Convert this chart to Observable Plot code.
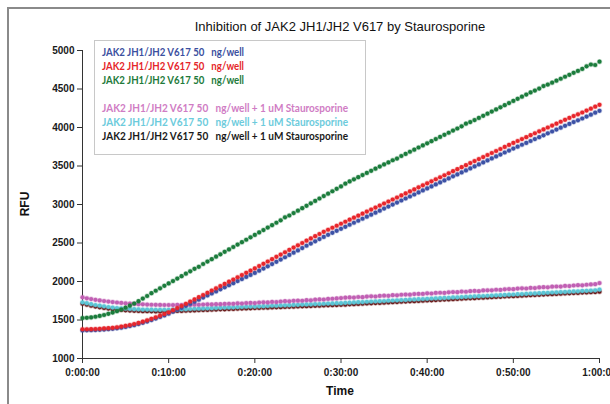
<!DOCTYPE html>
<html>
<head>
<meta charset="utf-8">
<script src="https://cdn.jsdelivr.net/npm/d3@7"></script>
<script src="https://cdn.jsdelivr.net/npm/@observablehq/plot@0.6"></script>
<style>
  html, body { margin: 0; padding: 0; background: #fff; }
  #wrap { position: relative; width: 610px; height: 404px; overflow: hidden; background: #fff; }
  #wrap svg.plot { position: absolute; left: 0; top: 0; }
  .ov { position: absolute; white-space: nowrap; color: #111; }
</style>
</head>
<body>
<div id="wrap"></div>
<script>
// ---- Data (RFU every 30 s, 0 .. 60 min) ----
const sampleMinutes = d3.range(0, 60.5, 0.5);

const legendLabels = [
  "JAK2 JH1/JH2 V617 50   ng/well",
  "JAK2 JH1/JH2 V617 50   ng/well",
  "JAK2 JH1/JH2 V617 50   ng/well",
  "JAK2 JH1/JH2 V617 50   ng/well + 1 uM Staurosporine",
  "JAK2 JH1/JH2 V617 50   ng/well + 1 uM Staurosporine",
  "JAK2 JH1/JH2 V617 50   ng/well + 1 uM Staurosporine"
];

const blueRFU = [
  1365,1366,1367,1369,1372,1376,1380,1385,1392,1400,
  1410,1421,1433,1447,1463,1480,1499,1518,1539,1560,
  1582,1607,1633,1658,1684,1711,1737,1764,1791,1818,
  1845,1871,1898,1925,1952,1978,2005,2032,2059,2085,
  2112,2140,2168,2197,2226,2255,2285,2315,2345,2374,
  2404,2434,2464,2493,2522,2551,2579,2606,2632,2658,
  2684,2710,2737,2763,2789,2815,2842,2868,2894,2920,
  2947,2973,2999,3025,3052,3078,3104,3130,3157,3183,
  3209,3235,3261,3287,3313,3339,3366,3391,3417,3443,
  3469,3495,3521,3546,3572,3598,3624,3649,3675,3700,
  3726,3751,3776,3800,3825,3850,3874,3899,3924,3948,
  3973,3998,4022,4046,4070,4093,4117,4142,4167,4192,
  4216
];
const redRFU = [
  1380,1380,1381,1383,1386,1390,1394,1399,1406,1414,
  1424,1435,1448,1462,1478,1496,1515,1535,1556,1578,
  1600,1627,1655,1682,1710,1739,1767,1796,1825,1854,
  1883,1911,1940,1969,1998,2026,2055,2084,2113,2141,
  2170,2200,2230,2260,2290,2320,2350,2380,2410,2440,
  2470,2500,2530,2559,2588,2617,2645,2672,2698,2724,
  2750,2776,2803,2829,2855,2881,2908,2934,2960,2986,
  3013,3039,3065,3091,3118,3144,3170,3196,3223,3249,
  3275,3301,3328,3354,3380,3406,3433,3459,3485,3511,
  3538,3564,3590,3616,3643,3669,3695,3721,3748,3774,
  3800,3825,3850,3875,3900,3925,3950,3975,4000,4025,
  4050,4075,4100,4124,4148,4171,4195,4220,4245,4270,
  4295
];
const greenRFU = [
  1525,1528,1534,1542,1553,1565,1580,1596,1614,1636,
  1660,1686,1714,1745,1778,1812,1848,1880,1912,1944,
  1975,2006,2038,2069,2101,2132,2164,2190,2227,2259,
  2290,2322,2353,2385,2416,2448,2479,2511,2542,2574,
  2605,2637,2668,2700,2731,2763,2794,2833,2857,2889,
  2920,2952,2983,3015,3046,3078,3109,3141,3172,3204,
  3235,3270,3300,3327,3355,3382,3410,3437,3465,3492,
  3520,3547,3575,3596,3630,3657,3685,3712,3740,3767,
  3795,3822,3850,3877,3905,3932,3960,3987,4015,4050,
  4070,4097,4125,4152,4180,4207,4235,4262,4290,4317,
  4345,4372,4400,4427,4455,4480,4506,4538,4557,4582,
  4608,4633,4659,4684,4710,4735,4761,4795,4818,4812,
  4855
];
const purpleRFU = [
  1795,1782,1772,1762,1754,1746,1739,1733,1727,1722,
  1717,1713,1709,1706,1703,1700,1698,1697,1696,1695,
  1695,1694,1696,1694,1697,1696,1699,1698,1701,1703,
  1702,1706,1705,1709,1711,1710,1716,1714,1720,1722,
  1720,1727,1729,1728,1735,1733,1740,1744,1742,1749,
  1751,1750,1758,1756,1764,1767,1766,1774,1776,1780,
  1785,1790,1793,1791,1799,1797,1804,1807,1805,1813,
  1816,1814,1822,1820,1828,1830,1829,1837,1839,1838,
  1846,1844,1851,1854,1852,1860,1863,1861,1869,1867,
  1874,1877,1875,1884,1886,1885,1893,1891,1898,1902,
  1900,1908,1911,1909,1917,1915,1923,1926,1924,1933,
  1935,1934,1942,1940,1948,1952,1950,1958,1962,1965,
  1980
];
const cyanRFU = [
  1730,1718,1706,1695,1686,1677,1669,1662,1656,1651,
  1647,1643,1640,1638,1636,1635,1634,1633,1632,1633,
  1632,1635,1636,1639,1641,1643,1646,1647,1650,1652,
  1654,1657,1658,1661,1663,1665,1668,1669,1672,1674,
  1675,1678,1680,1682,1685,1686,1689,1691,1693,1696,
  1697,1700,1702,1704,1707,1708,1711,1713,1715,1718,
  1719,1723,1725,1728,1731,1733,1737,1739,1742,1745,
  1747,1751,1753,1756,1759,1761,1765,1767,1770,1773,
  1775,1779,1781,1784,1787,1789,1793,1795,1798,1801,
  1803,1807,1809,1812,1815,1817,1821,1823,1826,1829,
  1831,1835,1837,1840,1843,1845,1849,1851,1854,1857,
  1859,1863,1865,1868,1871,1873,1877,1879,1882,1885,
  1895
];
const darkRFU = [
  1712,1698,1686,1675,1665,1656,1648,1641,1635,1630,
  1626,1622,1619,1617,1615,1614,1613,1612,1612,1612,
  1613,1614,1617,1618,1621,1623,1625,1627,1629,1631,
  1634,1635,1638,1639,1642,1644,1646,1648,1650,1652,
  1655,1656,1659,1660,1663,1665,1667,1669,1671,1673,
  1676,1677,1680,1681,1684,1686,1688,1690,1692,1694,
  1697,1699,1703,1705,1708,1711,1714,1716,1720,1722,
  1725,1728,1731,1733,1737,1739,1742,1745,1748,1750,
  1754,1756,1759,1762,1765,1767,1771,1773,1776,1779,
  1782,1784,1788,1790,1793,1796,1799,1801,1805,1807,
  1810,1813,1816,1818,1822,1824,1827,1830,1833,1835,
  1839,1841,1844,1847,1850,1852,1856,1858,1861,1863,
  1868
];

const yTicks = [1000, 1500, 2000, 2500, 3000, 3500, 4000, 4500, 5000];
const xTicks = [0, 10, 20, 30, 40, 50, 60];
const xTickLabels = ["0:00:00", "0:10:00", "0:20:00", "0:30:00", "0:40:00", "0:50:00", "1:00:00"];

const titleText = "Inhibition of JAK2 JH1/JH2 V617 by Staurosporine";
const xTitle = "Time";
const yTitle = "RFU";

// ---- styling ----
const seriesColors = ["#3d52a6", "#e8262c", "#1b7c3c", "#c160b4", "#5cc6d6", "#6a1515"];
const legendColors = ["#3b4fa0", "#e5262a", "#227a3b", "#d07cc4", "#6ccbdc", "#1a1a1a"];
const seriesValues = [blueRFU, redRFU, greenRFU, purpleRFU, cyanRFU, darkRFU];
const drawOrder = [5, 4, 3, 0, 1, 2];

function rows(k) {
  return sampleMinutes.map((t, i) => ({t, v: seriesValues[k][i]}));
}

const dotMarks = drawOrder.map(k => Plot.dot(rows(k), {
  x: "t", y: "v", r: 2.1,
  fill: seriesColors[k], stroke: seriesColors[k], strokeOpacity: 0.28, strokeWidth: 1.3
}));

const chart = Plot.plot({
  width: 610,
  height: 404,
  marginLeft: 82,
  marginRight: 11,
  marginTop: 50,
  marginBottom: 46,
  style: {fontFamily: "'Liberation Sans', Arial, sans-serif", fontSize: "10px", fontWeight: "bold", color: "#1a1a1a", background: "transparent"},
  x: {domain: [0, 60]},
  y: {domain: [1000, 5000]},
  marks: [
    Plot.axisY({ticks: yTicks, tickFormat: d => String(d), tickSize: 5, tickPadding: 3, label: null, stroke: "#333"}),
    Plot.axisX({ticks: xTicks, tickFormat: d => xTickLabels[xTicks.indexOf(d)], tickSize: 5, tickPadding: 5, label: null, stroke: "#333"}),
    Plot.ruleX([0], {stroke: "#333", strokeWidth: 1}),
    Plot.ruleY([1000], {stroke: "#333", strokeWidth: 1}),
    ...dotMarks
  ]
});
chart.classList.add("plot");

const wrap = document.getElementById("wrap");
wrap.appendChild(chart);

// outer chart-area border (partially cropped in the reference)
const frame = document.createElement("div");
frame.style.cssText = "position:absolute;left:7px;top:7px;width:700px;height:500px;border-left:2px solid #8a8a8a;border-top:2px solid #8a8a8a;box-sizing:border-box;pointer-events:none;";
wrap.appendChild(frame);

function addText(txt, css) {
  const d = document.createElement("div");
  d.className = "ov";
  d.textContent = txt;
  d.style.cssText += css;
  wrap.appendChild(d);
  return d;
}
addText(titleText, "left:0;width:680px;text-align:center;top:19px;font:13px/16px 'Liberation Sans',Arial,sans-serif;color:#111;");
addText(xTitle, "left:0;width:680px;text-align:center;top:384px;font:bold 12px/14px 'Liberation Sans',Arial,sans-serif;color:#111;");
addText(yTitle, "left:13px;top:197px;font:bold 12px/14px 'Liberation Sans',Arial,sans-serif;color:#111;transform:rotate(-90deg);transform-origin:50% 50%;");

// legend box
const ns = "http://www.w3.org/2000/svg";
const leg = document.createElementNS(ns, "svg");
leg.setAttribute("width", 610);
leg.setAttribute("height", 404);
leg.style.cssText = "position:absolute;left:0;top:0;pointer-events:none;";
const box = document.createElementNS(ns, "rect");
box.setAttribute("x", 94.5); box.setAttribute("y", 40.5);
box.setAttribute("width", 271); box.setAttribute("height", 114);
box.setAttribute("fill", "#fff"); box.setAttribute("stroke", "#c8c8c8");
leg.appendChild(box);
const legendRowY = [56, 70, 84, 112, 126, 140];
legendLabels.forEach((label, k) => {
  const t = document.createElementNS(ns, "text");
  t.setAttribute("x", 102);
  t.setAttribute("y", legendRowY[k]);
  t.setAttribute("fill", legendColors[k]);
  t.setAttribute("textLength", k >= 3 ? 246 : 142);
  t.setAttribute("lengthAdjust", "spacingAndGlyphs");
  t.setAttribute("style", "font-family:Lato,'Open Sans',sans-serif;font-weight:bold;font-size:10.5px;white-space:pre;");
  t.textContent = label;
  leg.appendChild(t);
});
wrap.appendChild(leg);
</script>
</body>
</html>
